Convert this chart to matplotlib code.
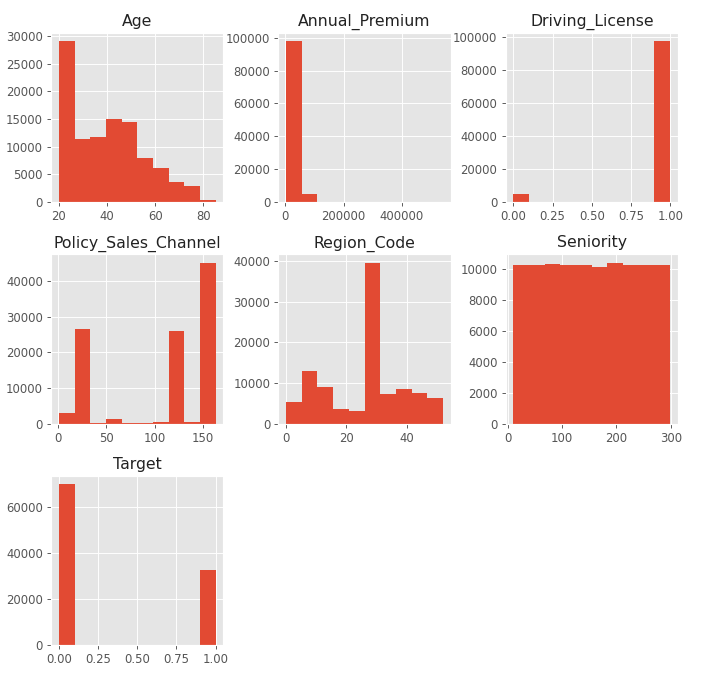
import numpy as np
import matplotlib
matplotlib.use('Agg')
import matplotlib.pyplot as plt
from matplotlib.ticker import MultipleLocator, FormatStrFormatter

plt.style.use('ggplot')

# ---- data (histogram counts per bin, 10 bins each) ----
titles = ['Age', 'Annual_Premium', 'Driving_License', 'Policy_Sales_Channel',
          'Region_Code', 'Seniority', 'Target']

age_range = (20, 85)
age_counts = [29100, 11320, 11740, 14970, 14490, 7890, 6080, 3680, 2830, 430]

premium_range = (2630, 540165)
premium_counts = [98000, 4650, 60, 15, 8, 4, 2, 1, 0, 1]

license_range = (0, 1)
license_counts = [4700, 0, 0, 0, 0, 0, 0, 0, 0, 97600]

channel_range = (1, 163)
channel_counts = [2900, 26600, 250, 1150, 200, 150, 350, 26000, 300, 45200]

region_range = (0, 52)
region_counts = [5250, 12870, 8930, 3520, 3200, 39600, 7380, 8520, 7620, 6310]

seniority_range = (10, 299)
seniority_counts = [10280, 10280, 10345, 10280, 10280, 10150, 10430, 10280, 10280, 10280]

target_range = (0, 1)
target_counts = [70000, 0, 0, 0, 0, 0, 0, 0, 0, 32600]

ranges = [age_range, premium_range, license_range, channel_range,
          region_range, seniority_range, target_range]
counts = [age_counts, premium_counts, license_counts, channel_counts,
          region_counts, seniority_counts, target_counts]
binary_cols = ['Driving_License', 'Target']

fig, axes = plt.subplots(3, 3, figsize=(714 / 84, 687 / 84), dpi=84)
fig.subplots_adjust(left=51 / 714, right=678 / 714, top=1 - 33 / 687,
                    bottom=1 - 645 / 687, wspace=0.319, hspace=0.31)

flat = axes.ravel()
for ax, title, rng, cnt in zip(flat, titles, ranges, counts):
    edges = np.linspace(rng[0], rng[1], len(cnt) + 1)
    centers = (edges[:-1] + edges[1:]) / 2
    ax.hist(centers, bins=10, range=rng, weights=cnt, color='#E24A33')
    ax.set_title(title, fontsize=13.5, color='#222222')
    ax.grid(True)
    if title in binary_cols:
        ax.xaxis.set_major_locator(MultipleLocator(0.25))
        ax.xaxis.set_major_formatter(FormatStrFormatter('%.2f'))

for ax in flat[len(titles):]:
    ax.remove()

fig.savefig('out.png', dpi=84, facecolor='white')
